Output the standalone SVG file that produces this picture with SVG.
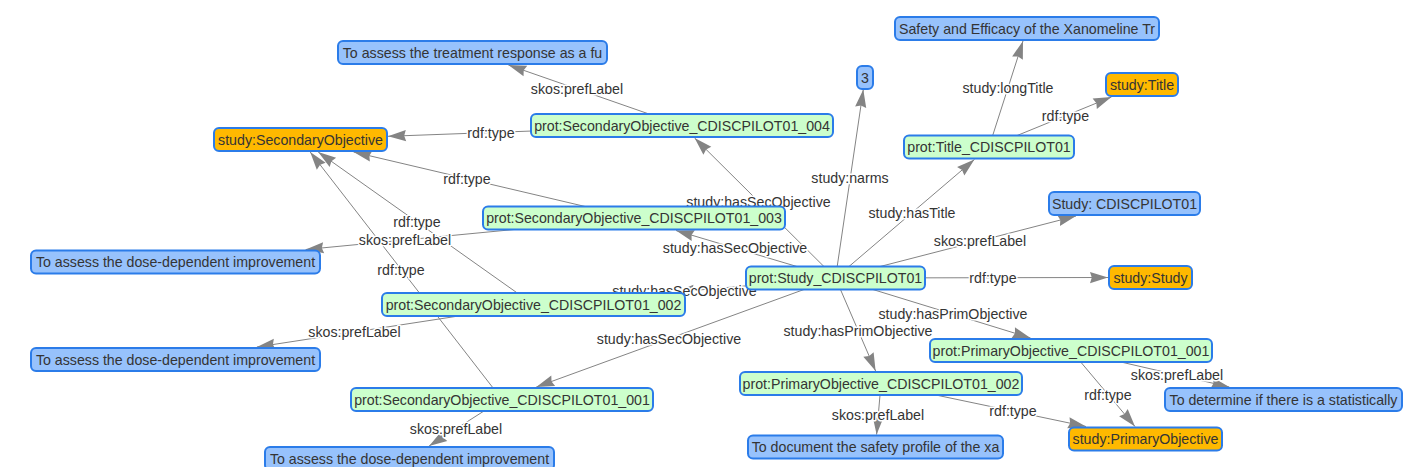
<svg xmlns="http://www.w3.org/2000/svg" width="1412" height="467" viewBox="0 0 1412 467">
<defs>
<marker id="arr" viewBox="-19 -7 20 14" refX="0" refY="0" markerWidth="20" markerHeight="14" markerUnits="userSpaceOnUse" orient="auto">
<path d="M0,0 L-18,5.6 L-16.2,0 L-18,-5.6 Z" fill="#848484"/>
</marker>
</defs>
<style>
.e line{stroke:#848484;stroke-width:1;fill:none;marker-end:url(#arr)}
.el text{font-family:"Liberation Sans",Arial,sans-serif;font-size:14.2px;fill:#343434;text-anchor:middle;stroke:#ffffff;stroke-width:3;paint-order:stroke;stroke-linejoin:round}
.n rect{stroke:#2B7CE9;stroke-width:2}
.n text{font-family:"Liberation Sans",Arial,sans-serif;font-size:14.2px;fill:#343434;text-anchor:middle}
.blue rect{fill:#97C2FC}
.green rect{fill:#CCFFCC}
.orange rect{fill:#FFB900}
</style>
<rect width="1412" height="467" fill="#ffffff"/>
<g id="connectors">
<g class="e">
<line x1="682" y1="125.5" x2="508.4" y2="65"/>
<line x1="682" y1="125.5" x2="388" y2="136.3"/>
<line x1="634" y1="218" x2="353.6" y2="152"/>
<line x1="533.5" y1="304.5" x2="318.2" y2="152"/>
<line x1="502" y1="399.5" x2="310.2" y2="152"/>
<line x1="835.5" y1="278" x2="694.6" y2="138"/>
<line x1="835.5" y1="278" x2="676" y2="230.5"/>
<line x1="835.5" y1="278" x2="676" y2="292"/>
<line x1="835.5" y1="278" x2="536.3" y2="387"/>
<line x1="835.5" y1="278" x2="863.3" y2="89.5"/>
<line x1="835.5" y1="278" x2="974.4" y2="159.5"/>
<line x1="835.5" y1="278" x2="1076" y2="216"/>
<line x1="835.5" y1="278" x2="1108" y2="277.5"/>
<line x1="835.5" y1="278" x2="1030.5" y2="338"/>
<line x1="835.5" y1="278" x2="875.6" y2="371"/>
<line x1="989" y1="147" x2="1023" y2="41"/>
<line x1="989" y1="147" x2="1111.4" y2="97"/>
<line x1="634" y1="218" x2="305.7" y2="249.5"/>
<line x1="533.5" y1="304.5" x2="256.9" y2="347"/>
<line x1="502" y1="399.5" x2="429.1" y2="446"/>
<line x1="881" y1="383.5" x2="876.6" y2="434.5"/>
<line x1="881" y1="383.5" x2="1086" y2="426.5"/>
<line x1="1071" y1="350.5" x2="1229.3" y2="387"/>
<line x1="1071" y1="350.5" x2="1135" y2="426.5"/>
</g>
<g class="el">
<text x="577" y="94">skos:prefLabel</text>
<text x="491" y="137.5">rdf:type</text>
<text x="467" y="183.5">rdf:type</text>
<text x="417" y="227">rdf:type</text>
<text x="401" y="274.5">rdf:type</text>
<text x="758.5" y="206.5">study:hasSecObjective</text>
<text x="735" y="253">study:hasSecObjective</text>
<text x="684.5" y="296">study:hasSecObjective</text>
<text x="669" y="343.5">study:hasSecObjective</text>
<text x="850" y="183">study:narms</text>
<text x="912" y="217.5">study:hasTitle</text>
<text x="980" y="245.5">skos:prefLabel</text>
<text x="993" y="283">rdf:type</text>
<text x="953" y="319">study:hasPrimObjective</text>
<text x="858" y="335.5">study:hasPrimObjective</text>
<text x="1008" y="93">study:longTitle</text>
<text x="1065.5" y="121">rdf:type</text>
<text x="405" y="245">skos:prefLabel</text>
<text x="354.5" y="337">skos:prefLabel</text>
<text x="456" y="434">skos:prefLabel</text>
<text x="878" y="420">skos:prefLabel</text>
<text x="1013" y="416">rdf:type</text>
<text x="1177" y="380">skos:prefLabel</text>
<text x="1108" y="400">rdf:type</text>
</g>
</g>
<g id="n_treat" class="n blue"><rect x="338" y="41" width="269" height="23" rx="5"/><text x="472.5" y="57.5">To assess the treatment response as a fu</text></g>
<g id="n_secobj" class="n orange"><rect x="214" y="128" width="173" height="23" rx="5"/><text x="300.5" y="144.5">study:SecondaryObjective</text></g>
<g id="n_so004" class="n green"><rect x="531" y="114" width="302" height="23" rx="5"/><text x="682" y="130.5">prot:SecondaryObjective_CDISCPILOT01_004</text></g>
<g id="n_3" class="n blue"><rect x="857" y="66" width="16" height="23" rx="5"/><text x="865" y="82.5">3</text></g>
<g id="n_safety" class="n blue"><rect x="895" y="17" width="264" height="23" rx="5"/><text x="1027" y="33.5">Safety and Efficacy of the Xanomeline Tr</text></g>
<g id="n_studytitle" class="n orange"><rect x="1106" y="73" width="72" height="23" rx="5"/><text x="1142" y="89.5">study:Title</text></g>
<g id="n_title" class="n green"><rect x="904" y="135.5" width="170" height="23" rx="5"/><text x="989" y="152">prot:Title_CDISCPILOT01</text></g>
<g id="n_studylabel" class="n blue"><rect x="1049" y="192" width="151" height="23" rx="5"/><text x="1124.5" y="208.5">Study: CDISCPILOT01</text></g>
<g id="n_so003" class="n green"><rect x="483" y="206.5" width="302" height="23" rx="5"/><text x="634" y="223">prot:SecondaryObjective_CDISCPILOT01_003</text></g>
<g id="n_study" class="n green"><rect x="746" y="266.5" width="179" height="23" rx="5"/><text x="835.5" y="283">prot:Study_CDISCPILOT01</text></g>
<g id="n_studyclass" class="n orange"><rect x="1109" y="266" width="83" height="23" rx="5"/><text x="1150.5" y="282.5">study:Study</text></g>
<g id="n_dose1" class="n blue"><rect x="31" y="250.5" width="289" height="23" rx="5"/><text x="175.5" y="267">To assess the dose-dependent improvement</text></g>
<g id="n_so002" class="n green"><rect x="382" y="293" width="303" height="23" rx="5"/><text x="533.5" y="309.5">prot:SecondaryObjective_CDISCPILOT01_002</text></g>
<g id="n_dose2" class="n blue"><rect x="31" y="348" width="289" height="23" rx="5"/><text x="175.5" y="364.5">To assess the dose-dependent improvement</text></g>
<g id="n_po001" class="n green"><rect x="930" y="339" width="282" height="23" rx="5"/><text x="1071" y="355.5">prot:PrimaryObjective_CDISCPILOT01_001</text></g>
<g id="n_so001" class="n green"><rect x="351" y="388" width="302" height="23" rx="5"/><text x="502" y="404.5">prot:SecondaryObjective_CDISCPILOT01_001</text></g>
<g id="n_po002" class="n green"><rect x="740" y="372" width="282" height="23" rx="5"/><text x="881" y="388.5">prot:PrimaryObjective_CDISCPILOT01_002</text></g>
<g id="n_stat" class="n blue"><rect x="1165" y="388" width="237" height="23" rx="5"/><text x="1283.5" y="404.5">To determine if there is a statistically</text></g>
<g id="n_dose3" class="n blue"><rect x="265" y="447" width="289" height="23" rx="5"/><text x="409.5" y="463.5">To assess the dose-dependent improvement</text></g>
<g id="n_doc" class="n blue"><rect x="748" y="435.5" width="255" height="23" rx="5"/><text x="875.5" y="452">To document the safety profile of the xa</text></g>
<g id="n_poclass" class="n orange"><rect x="1069" y="427.5" width="153" height="23" rx="5"/><text x="1145.5" y="444">study:PrimaryObjective</text></g>
</svg>
